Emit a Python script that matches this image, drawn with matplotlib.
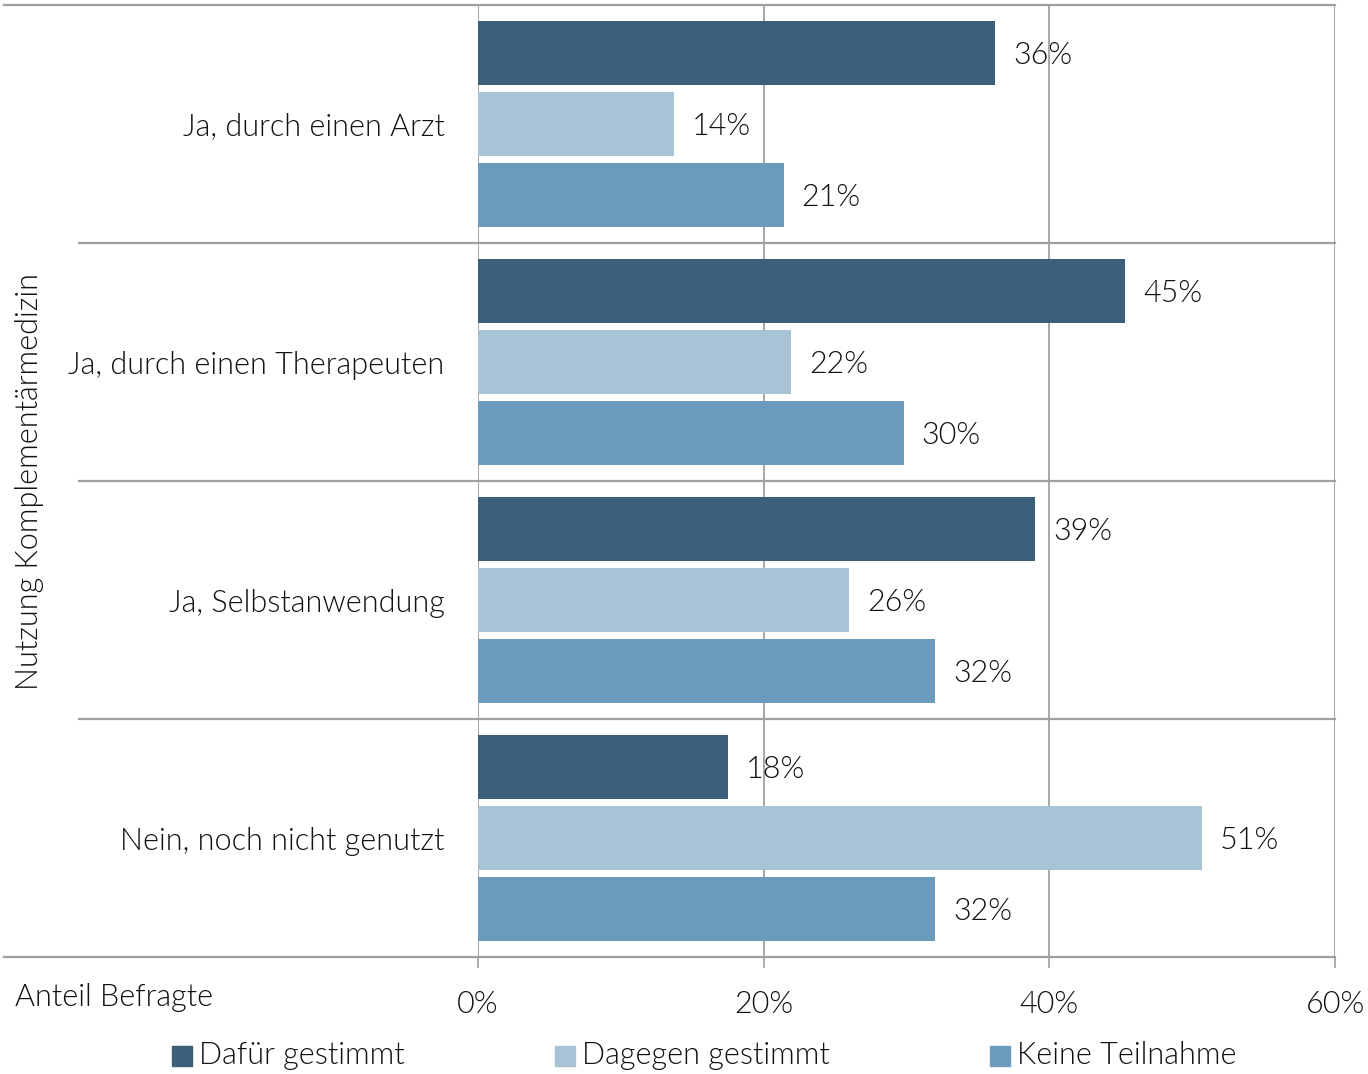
import matplotlib
matplotlib.use("Agg")
import matplotlib.pyplot as plt
import matplotlib.transforms as mtransforms
import numpy as np

categories = ["Ja, durch einen Arzt", "Ja, durch einen Therapeuten",
              "Ja, Selbstanwendung", "Nein, noch nicht genutzt"]
dafuer = [36.2, 45.3, 39.0, 17.5]
dagegen = [13.7, 21.9, 26.0, 50.7]
keine = [21.4, 29.8, 32.0, 32.0]
label_dafuer = ["36%", "45%", "39%", "18%"]
label_dagegen = ["14%", "22%", "26%", "51%"]
label_keine = ["21%", "30%", "32%", "32%"]
series_names = ["Dafür gestimmt", "Dagegen gestimmt", "Keine Teilnahme"]
x_ticks = [0, 20, 40, 60]

colors = ["#3b607a", "#a8c3d6", "#6a9bbd"]
grid_col = "#a0a0a0"
txt_col = "#111111"

plt.rcParams["font.family"] = ["Lato", "DejaVu Sans"]
plt.rcParams["font.weight"] = 300

fig = plt.figure(figsize=(13.68, 10.74), dpi=100)
ax = fig.add_axes([478 / 1368, 1 - 957 / 1074, 857 / 1368, 952 / 1074])

y = np.arange(len(categories))
h = 0.27
step = 0.298
fs = 22

all_vals = [dafuer, dagegen, keine]
all_labels = [label_dafuer, label_dagegen, label_keine]
for i, (vals, labs) in enumerate(zip(all_vals, all_labels)):
    ypos = y + (i - 1) * step
    ax.barh(ypos, vals, height=h, color=colors[i], zorder=3, label=series_names[i])
    for v, yy, lab in zip(vals, ypos, labs):
        ax.annotate(lab, (v, yy), xytext=(13, -1.5), textcoords="offset points",
                    ha="left", va="center", fontsize=fs, color=txt_col, zorder=4)

ax.set_xlim(0, 60)
ax.set_ylim(3.5, -0.5)
ax.set_xticks(x_ticks)
ax.set_xticklabels([f"{t}%" for t in x_ticks], fontsize=fs, color=txt_col)
ax.set_yticks(y)
ax.set_yticklabels(categories, fontsize=fs, color=txt_col)
ax.tick_params(axis="y", length=0, pad=24)
ax.tick_params(axis="x", length=8, width=1.2, color=grid_col, pad=16, direction="out")

for s in ax.spines.values():
    s.set_visible(False)

# vertical grid lines, including 0% and 60%
for t in x_ticks:
    ax.axvline(t, color=grid_col, lw=1.3, zorder=2)

# horizontal separators reaching into the label area
trans = mtransforms.blended_transform_factory(ax.transAxes, ax.transData)
for sep in [0.5, 1.5, 2.5]:
    ax.plot([-0.465, 1.0], [sep, sep], transform=trans, color=grid_col, lw=1.6,
            clip_on=False, zorder=2)
for edge in [-0.5, 3.5]:
    ax.plot([-0.553, 1.0], [edge, edge], transform=trans, color=grid_col, lw=1.6,
            clip_on=False, zorder=2)

fig.text(30 / 1368, 1 - 482 / 1074, "Nutzung Komplementärmedizin", rotation=90,
         ha="center", va="center", fontsize=fs, color=txt_col)
fig.text(15 / 1368, 1 - 998 / 1074, "Anteil Befragte", ha="left", va="center",
         fontsize=fs, color=txt_col)

leg_x = [172, 555, 990]
for name, c, lx in zip(series_names, colors, leg_x):
    fig.patches.append(plt.Rectangle((lx / 1368, 1 - 1066 / 1074), 20 / 1368, 20 / 1074,
                                     transform=fig.transFigure, color=c))
    fig.text((lx + 27) / 1368, 1 - 1056 / 1074, name, ha="left", va="center",
             fontsize=fs, color=txt_col)

fig.savefig("out.png", dpi=100)
